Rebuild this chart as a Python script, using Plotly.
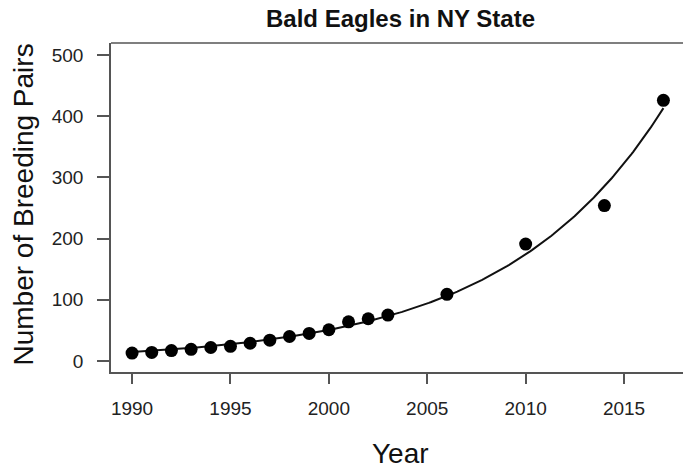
import numpy as np
import plotly.graph_objects as go

years = [1990, 1991, 1992, 1993, 1994, 1995, 1996, 1997, 1998, 1999,
         2000, 2001, 2002, 2003, 2006, 2010, 2014, 2017]
pairs = [13, 14, 17, 19, 22, 24, 29, 34, 40, 45,
         51, 64, 69, 75, 109, 191, 254, 426]
x_ticks = [1990, 1995, 2000, 2005, 2010, 2015]
y_ticks = [0, 100, 200, 300, 400, 500]

# exponential model fitted to the data (nonlinear least squares)
xa = np.array(years, dtype=float) - years[0]
ya = np.array(pairs, dtype=float)
b, loga = np.polyfit(xa, np.log(ya), 1)
a = np.exp(loga)
for _ in range(50):
    f = a * np.exp(b * xa)
    J = np.column_stack([np.exp(b * xa), a * xa * np.exp(b * xa)])
    step, *_ = np.linalg.lstsq(J, ya - f, rcond=None)
    a += step[0]
    b += step[1]
xs = np.linspace(years[0], years[-1], 300)
ys = a * np.exp(b * (xs - years[0]))

fig = go.Figure()
fig.add_trace(go.Scatter(x=xs, y=ys, mode="lines",
                         line=dict(color="#111111", width=2), hoverinfo="skip"))
fig.add_trace(go.Scatter(x=years, y=pairs, mode="markers",
                         marker=dict(color="black", size=13)))

L, T, B, R = 111, 43, 97, 0
W, H = 683, 469
plot_w = W - L - R
cx = (400 - L) / plot_w  # title / x-label centre (page x 400)

font = "Liberation Sans, Arial, Helvetica, sans-serif"
fig.update_layout(
    width=W, height=H,
    margin=dict(l=L, r=R, t=T, b=B),
    paper_bgcolor="white", plot_bgcolor="white",
    showlegend=False,
    font=dict(family=font, color="#222222"),
    xaxis=dict(range=[1988.93, 1988.93 + plot_w / 19.68], tickvals=x_ticks, showgrid=False,
               zeroline=False, showline=True, linecolor="#555555", linewidth=1.5,
               ticks="outside", ticklen=10, tickwidth=1.5, tickcolor="#555555",
               tickfont=dict(size=19, color="#222222"), ticklabelstandoff=8),
    yaxis=dict(range=[-18, 519.6], tickvals=y_ticks, showgrid=False,
               zeroline=False, showline=True, linecolor="#555555", linewidth=1.5,
               ticks="outside", ticklen=12, tickwidth=1.5, tickcolor="#555555",
               tickfont=dict(size=19, color="#222222"), ticklabelstandoff=10),
    shapes=[dict(type="line", xref="paper", yref="paper", x0=0, x1=1, y0=1, y1=1,
                 line=dict(color="#555555", width=1.5))],
    annotations=[
        dict(text="<b>Bald Eagles in NY State</b>", xref="paper", yref="paper",
             x=cx, y=1, yshift=43 - 18, xanchor="center", yanchor="middle",
             showarrow=False, font=dict(size=24, color="#111111")),
        dict(text="Year", xref="paper", yref="paper", x=cx, y=0,
             yshift=-(453 - 372), xanchor="center", yanchor="middle",
             showarrow=False, font=dict(size=28, color="#111111")),
        dict(text="Number of Breeding Pairs", xref="paper", yref="paper",
             x=0, xshift=-(111 - 23), y=0.5, yshift=3, xanchor="center",
             yanchor="middle", showarrow=False, textangle=-90,
             font=dict(size=28, color="#111111")),
    ],
)
fig.write_html(
    "out.html",
    config={"displayModeBar": False},
    post_script="document.body.style.margin='0';document.body.style.overflow='hidden';",
)
